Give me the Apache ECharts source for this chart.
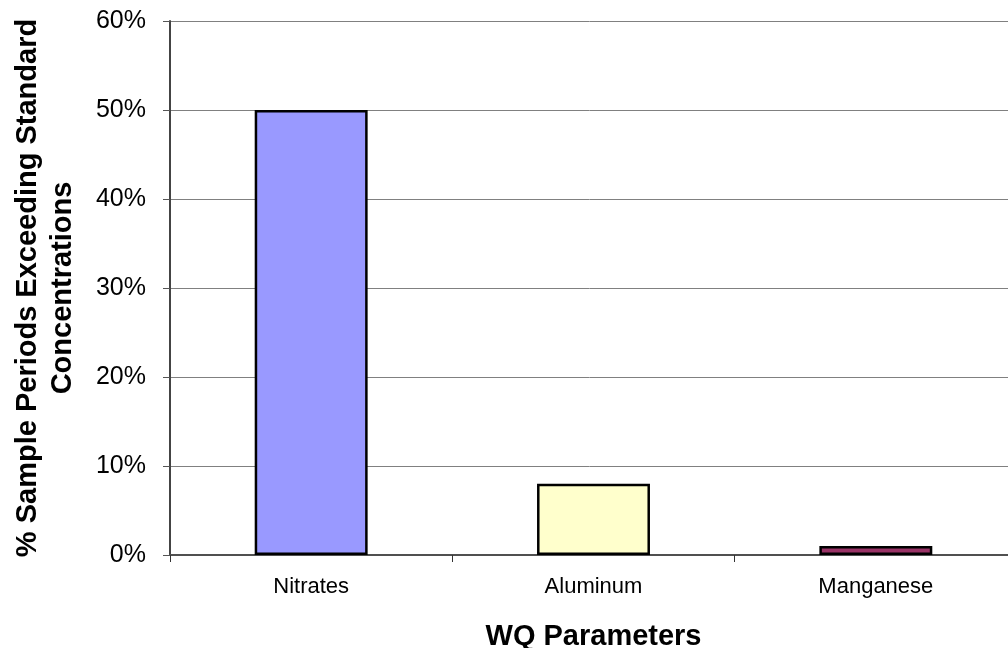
<!DOCTYPE html>
<html>
<head>
<meta charset="utf-8">
<script src="https://cdn.jsdelivr.net/npm/echarts@6/dist/echarts.min.js"></script>
<style>
  html, body { margin: 0; padding: 0; background: #ffffff; overflow: hidden; }
  #chart { width: 1008px; height: 648px; }
</style>
</head>
<body>
<div id="chart"></div>
<script>
// Water-quality parameters and share of sample periods above the standard (%)
const categories = ['Nitrates', 'Aluminum', 'Manganese'];
const exceedPercent = [50, 8, 1];
const barColors = ['#9999FF', '#FFFFCC', '#993366'];
const yTicks = { min: 0, max: 60, interval: 10 };

const chart = echarts.init(document.getElementById('chart'), null, { renderer: 'canvas' });

chart.setOption({
  backgroundColor: '#ffffff',
  animation: false,
  textStyle: { fontFamily: 'Liberation Sans, Arial, sans-serif', color: '#000' },
  grid: { left: 170, top: 21, bottom: 93, width: 847, containLabel: false, outerBoundsMode: 'none' },
  xAxis: {
    type: 'category',
    data: categories,
    name: 'WQ Parameters',
    nameLocation: 'middle',
    nameGap: 67,
    nameTextStyle: { fontSize: 29, fontWeight: 'bold', color: '#000', fontFamily: 'Liberation Sans, Arial, sans-serif' },
    axisLine: { lineStyle: { color: '#505050', width: 2 } },
    axisTick: { show: true, length: 7, lineStyle: { color: '#333', width: 1 } },
    axisLabel: { fontSize: 22, color: '#000', margin: 21, fontFamily: 'Liberation Sans, Arial, sans-serif' }
  },
  yAxis: {
    type: 'value',
    min: yTicks.min,
    max: yTicks.max,
    interval: yTicks.interval,
    name: '% Sample Periods Exceeding Standard\nConcentrations',
    nameLocation: 'middle',
    nameRotate: 90,
    nameGap: 90,
    nameTextStyle: { fontSize: 29, fontWeight: 'bold', color: '#000', lineHeight: 35, align: 'center', fontFamily: 'Liberation Sans, Arial, sans-serif' },
    axisLine: { show: true, lineStyle: { color: '#444', width: 2 } },
    axisTick: { show: true, length: 7, lineStyle: { color: '#555', width: 1 } },
    axisLabel: { fontSize: 25, color: '#000', margin: 24, formatter: '{value}%', fontFamily: 'Liberation Sans, Arial, sans-serif' },
    splitLine: { show: true, lineStyle: { color: '#808080', width: 1 } }
  },
  series: [{
    type: 'bar',
    data: exceedPercent.map((v, i) => ({ value: v, itemStyle: { color: barColors[i] } })),
    barWidth: '40%',
    itemStyle: { borderColor: '#000', borderWidth: 2.5 }
  }]
});
</script>
</body>
</html>
